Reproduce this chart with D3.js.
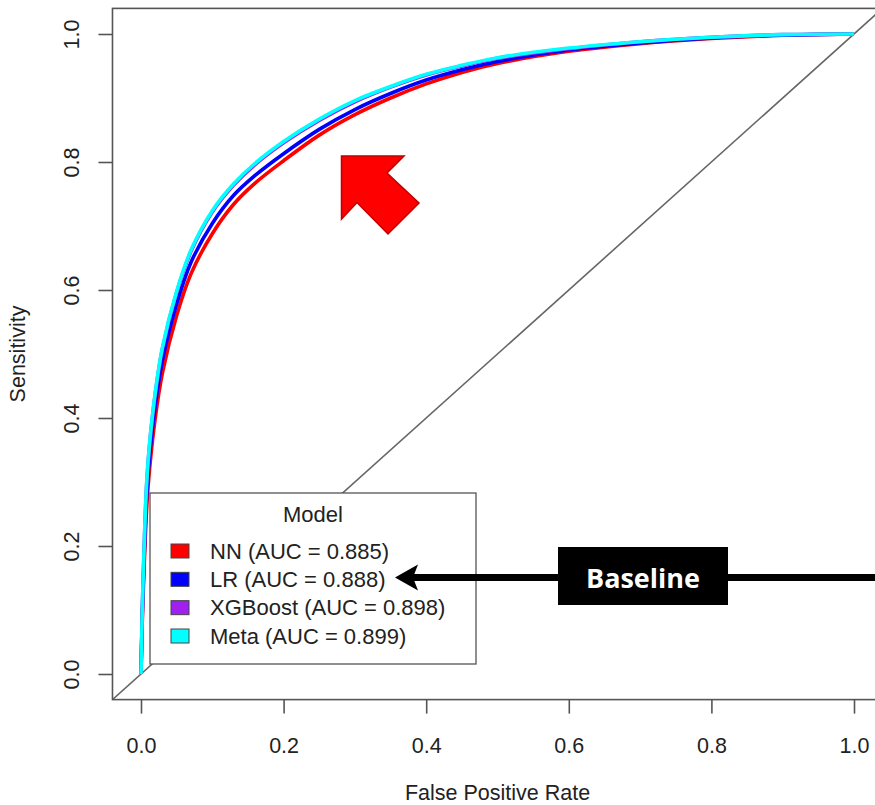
<!DOCTYPE html>
<html>
<head>
<meta charset="utf-8">
<script src="https://cdn.jsdelivr.net/npm/d3@7"></script>
<style>
  html, body { margin: 0; padding: 0; background: #fff; }
  svg { display: block; }
</style>
</head>
<body>
<svg id="chart" width="875" height="805"></svg>
<script>
// ---- data ----
const fpr = [0, 0.002, 0.005, 0.008, 0.012, 0.02, 0.03, 0.05, 0.07, 0.1, 0.13, 0.16, 0.2, 0.25, 0.3, 0.35, 0.4, 0.45, 0.5, 0.6, 0.7, 0.8, 0.9, 1.0];
const tprNN      = [0, 0.09, 0.185, 0.26, 0.32, 0.40, 0.47, 0.56, 0.625, 0.688, 0.734, 0.767, 0.802, 0.842, 0.874, 0.900, 0.922, 0.940, 0.954, 0.973, 0.985, 0.993, 0.998, 1.0];
const tprLR      = [0, 0.10, 0.20, 0.28, 0.34, 0.42, 0.49, 0.578, 0.643, 0.704, 0.748, 0.779, 0.813, 0.851, 0.882, 0.907, 0.928, 0.944, 0.957, 0.975, 0.986, 0.994, 0.998, 1.0];
const tprXGBoost = [0, 0.108, 0.218, 0.298, 0.358, 0.438, 0.508, 0.596, 0.660, 0.722, 0.764, 0.796, 0.830, 0.865, 0.894, 0.917, 0.936, 0.950, 0.962, 0.977, 0.988, 0.995, 0.999, 1.0];
const tprMeta    = [0, 0.11, 0.22, 0.30, 0.36, 0.44, 0.51, 0.598, 0.662, 0.724, 0.766, 0.798, 0.832, 0.867, 0.896, 0.918, 0.937, 0.951, 0.963, 0.978, 0.988, 0.995, 0.999, 1.0];
const seriesNames = ["NN", "LR", "XGBoost", "Meta"];
const seriesAUC = ["0.885", "0.888", "0.898", "0.899"];
const seriesColors = ["#ff0000", "#0000ff", "#a020f0", "#00ffff"];
const tickValues = [0, 0.2, 0.4, 0.6, 0.8, 1.0];
const tickLabels = ["0.0", "0.2", "0.4", "0.6", "0.8", "1.0"];

const series = [tprNN, tprLR, tprXGBoost, tprMeta].map((t, i) => ({
  name: seriesNames[i], auc: seriesAUC[i], color: seriesColors[i],
  pts: fpr.map((f, j) => [f, t[j]])
}));

// ---- scales ----
const x = d3.scaleLinear().domain([0, 1]).range([141, 854]);
const y = d3.scaleLinear().domain([0, 1]).range([674, 34]);
const ext = 0.04;
const svg = d3.select("#chart");
const FONT = "'Liberation Sans', Arial, Helvetica, sans-serif";
const AX = "#555";
const TXT = "#222";

const x0 = x(-ext), x1 = x(1 + ext), yTop = y(1 + ext), yBot = y(-ext);

svg.append("defs").append("clipPath").attr("id", "plotclip")
  .append("rect").attr("x", x0).attr("y", yTop).attr("width", x1 - x0).attr("height", yBot - yTop);

const plot = svg.append("g").attr("clip-path", "url(#plotclip)");
// diagonal reference line
plot.append("line")
  .attr("x1", x(-ext)).attr("y1", y(-ext)).attr("x2", x(1 + ext)).attr("y2", y(1 + ext))
  .attr("stroke", "#666").attr("stroke-width", 1.6);

// curves
const line = d3.line().x(d => x(d[0])).y(d => y(d[1])).curve(d3.curveCatmullRom.alpha(0.5));
plot.selectAll("path.roc").data(series).join("path")
  .attr("class", "roc")
  .attr("d", d => line(d.pts))
  .attr("fill", "none")
  .attr("stroke", d => d.color)
  .attr("stroke-width", 3.6)
  .attr("stroke-linejoin", "round");

// box
svg.append("rect")
  .attr("x", x0).attr("y", yTop).attr("width", x1 - x0).attr("height", yBot - yTop)
  .attr("fill", "none").attr("stroke", AX).attr("stroke-width", 1.6);

// x axis
const gx = svg.append("g").attr("transform", `translate(0,${yBot})`)
  .call(d3.axisBottom(x).tickValues(tickValues).tickFormat((d, i) => tickLabels[i]).tickSize(14).tickPadding(24));
gx.select(".domain").remove();
gx.selectAll(".tick line").attr("stroke", AX).attr("stroke-width", 1.6);
gx.selectAll(".tick text").attr("fill", TXT).attr("font-family", FONT).attr("font-size", 21.5);

// y axis
const gy = svg.append("g").attr("transform", `translate(${x0},0)`)
  .call(d3.axisLeft(y).tickValues(tickValues).tickFormat((d, i) => tickLabels[i]).tickSize(14));
gy.select(".domain").remove();
gy.selectAll(".tick line").attr("stroke", AX).attr("stroke-width", 1.6);
gy.selectAll(".tick text")
  .attr("fill", TXT).attr("font-family", FONT).attr("font-size", 21.5)
  .attr("x", null).attr("dy", null)
  .attr("text-anchor", "middle")
  .attr("transform", `translate(${72 - x0},0) rotate(-90)`)
  .attr("dominant-baseline", "central");

// axis titles
svg.append("text").attr("x", (x(0) + x(1)) / 2).attr("y", 800)
  .attr("text-anchor", "middle").attr("font-family", FONT).attr("font-size", 21.5).attr("fill", TXT)
  .text("False Positive Rate");
svg.append("text").attr("transform", `translate(25,${(y(0) + y(1)) / 2}) rotate(-90)`)
  .attr("text-anchor", "middle").attr("font-family", FONT).attr("font-size", 21.5).attr("fill", TXT)
  .text("Sensitivity");

// legend
const lg = svg.append("g");
const lgX = 150, lgY = 493, lgW = 326, lgH = 171;
lg.append("rect").attr("x", lgX).attr("y", lgY).attr("width", lgW).attr("height", lgH)
  .attr("fill", "#fff").attr("stroke", AX).attr("stroke-width", 1.3);
lg.append("text").attr("x", 313).attr("y", 514).attr("dominant-baseline", "central")
  .attr("text-anchor", "middle").attr("font-family", FONT).attr("font-size", 22).attr("fill", TXT)
  .text("Model");
const rowY = d3.scaleLinear().domain([0, 3]).range([551, 636]);
const items = lg.selectAll("g.item").data(series).join("g").attr("class", "item")
  .attr("transform", (d, i) => `translate(0,${rowY(i)})`);
items.append("rect").attr("x", 171).attr("y", -7).attr("width", 18).attr("height", 14)
  .attr("fill", d => d.color).attr("stroke", "#444").attr("stroke-width", 1);
items.append("text").attr("x", 210).attr("y", 0).attr("dominant-baseline", "central")
  .attr("font-family", FONT).attr("font-size", 22).attr("fill", TXT)
  .text(d => `${d.name} (AUC = ${d.auc})`);

// red block arrow annotation
const arrowPts = [[341.5, 156], [404, 156], [387, 173], [419, 203], [388, 234], [357, 202.5], [341.5, 219]];
svg.append("polygon").attr("points", arrowPts.map(p => p.join(",")).join(" "))
  .attr("fill", "#ff0000").attr("stroke", "#c00000").attr("stroke-width", 1.5).attr("stroke-linejoin", "miter");

// Baseline arrow
const ay = 577.5;
svg.append("line").attr("x1", 412).attr("y1", ay).attr("x2", 880).attr("y2", ay)
  .attr("stroke", "#000").attr("stroke-width", 7);
svg.append("polygon")
  .attr("points", `395,${ay} 418,${ay - 13} 413,${ay} 418,${ay + 13}`)
  .attr("fill", "#000");
svg.append("rect").attr("x", 558).attr("y", 547).attr("width", 170).attr("height", 58).attr("fill", "#000");
svg.append("text").attr("x", 643).attr("y", 577).attr("dominant-baseline", "central")
  .attr("text-anchor", "middle").attr("font-family", "'Open Sans', Lato, sans-serif")
  .attr("font-weight", "bold").attr("font-size", 27).attr("fill", "#fff")
  .text("Baseline");
</script>
</body>
</html>
